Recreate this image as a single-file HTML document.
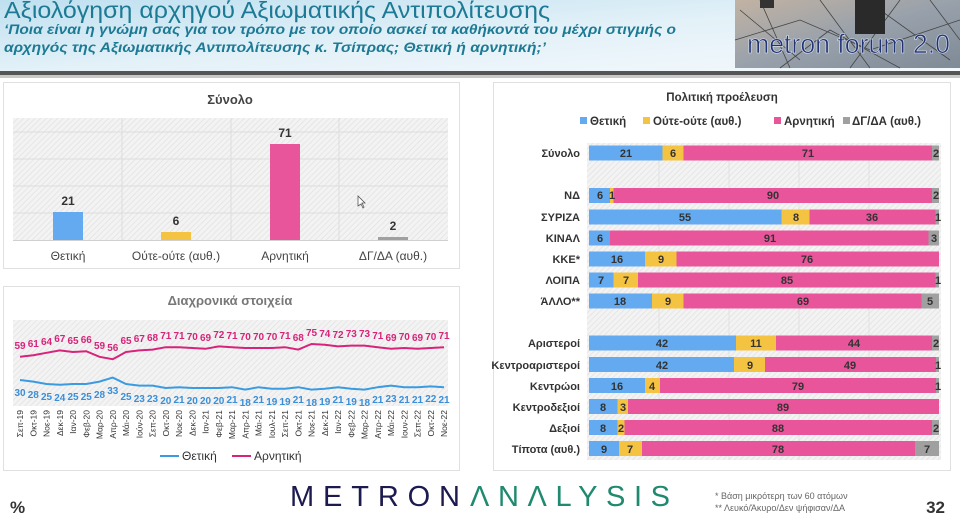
<!DOCTYPE html>
<html><head><meta charset="utf-8"><style>
html,body{margin:0;padding:0;width:960px;height:518px;overflow:hidden;background:#fff}
svg{display:block;font-family:"Liberation Sans","DejaVu Sans",sans-serif}
</style></head><body>
<svg width="960" height="518" viewBox="0 0 960 518" xmlns="http://www.w3.org/2000/svg">
<defs>
<linearGradient id="hdr" x1="0" y1="0" x2="1" y2="1">
<stop offset="0" stop-color="#bfe0f0"/><stop offset="0.5" stop-color="#e3f1f8"/><stop offset="1" stop-color="#f4f9fc"/></linearGradient>
<linearGradient id="img" x1="0" y1="0" x2="1" y2="1">
<stop offset="0" stop-color="#c2b3a3"/><stop offset="0.5" stop-color="#98a1ab"/><stop offset="1" stop-color="#7f8a97"/></linearGradient>
<pattern id="hatch" width="4" height="4" patternUnits="userSpaceOnUse" patternTransform="rotate(45)">
<rect width="4" height="4" fill="#f3f3f3"/><line x1="0" y1="0" x2="0" y2="4" stroke="#e2e2e2" stroke-width="1.5"/></pattern>
</defs>
<!-- header -->
<rect x="0" y="0" width="960" height="72" fill="url(#hdr)"/>
<rect x="0" y="71" width="960" height="4" fill="#555"/>
<rect x="0" y="75" width="960" height="3" fill="#c8c8c8"/>
<text x="4" y="18" font-size="23" fill="#1d7a94" textLength="546" lengthAdjust="spacingAndGlyphs">Αξιολόγηση αρχηγού Αξιωματικής Αντιπολίτευσης</text>
<text x="4" y="34" font-size="13.5" font-style="italic" font-weight="bold" fill="#1d7a94" textLength="672" lengthAdjust="spacingAndGlyphs">‘Ποια είναι η γνώμη σας για τον τρόπο με τον οποίο ασκεί τα καθήκοντά του μέχρι στιγμής ο</text>
<text x="4" y="52" font-size="13.5" font-style="italic" font-weight="bold" fill="#1d7a94" textLength="542" lengthAdjust="spacingAndGlyphs">αρχηγός της Αξιωματικής Αντιπολίτευσης κ. Τσίπρας; Θετική ή αρνητική;’</text>
<rect x="735" y="0" width="225" height="68" fill="url(#img)"/>
<path d="M740 10 L800 60 M760 0 L790 68 M820 0 L870 68 M900 0 L850 68 M930 0 L960 40 M735 40 L800 20 L870 50 L960 20 M780 68 L830 30 L900 68 M880 10 L950 60" stroke="#444" stroke-width="0.8" fill="none"/>
<rect x="855" y="0" width="30" height="34" fill="#2a2a2a"/>
<rect x="760" y="0" width="14" height="8" fill="#333"/>
<text x="747" y="53" font-size="27" fill="#233475" stroke="#dfe6ef" stroke-width="0.6" textLength="203" lengthAdjust="spacingAndGlyphs">metron forum 2.0</text>

<!-- top-left panel -->
<rect x="3.5" y="82.5" width="456" height="186" fill="#fff" stroke="#e0e0e0"/>
<text x="230" y="104" font-size="13" font-weight="bold" fill="#444" text-anchor="middle">Σύνολο</text>
<rect x="13" y="118" width="435" height="122" fill="url(#hatch)"/>
<g stroke="#dcdcdc" stroke-width="1">
<line x1="13" y1="132" x2="448" y2="132"/><line x1="13" y1="159" x2="448" y2="159"/><line x1="13" y1="186" x2="448" y2="186"/><line x1="13" y1="213" x2="448" y2="213"/>
<line x1="122" y1="118" x2="122" y2="240"/><line x1="231" y1="118" x2="231" y2="240"/><line x1="339" y1="118" x2="339" y2="240"/>
</g>
<line x1="13" y1="240.5" x2="448" y2="240.5" stroke="#d0d0d0"/>
<rect x="53" y="212" width="30" height="28" fill="#63aaf0"/>
<rect x="161" y="232" width="30" height="8" fill="#f5c342"/>
<rect x="270" y="144" width="30" height="96" fill="#e8559a"/>
<rect x="378" y="237" width="30" height="3" fill="#a0a0a0"/>
<g font-size="12" font-weight="bold" fill="#333" text-anchor="middle">
<text x="68" y="205">21</text><text x="176" y="225">6</text><text x="285" y="137">71</text><text x="393" y="230">2</text>
</g>
<g font-size="12" fill="#444" text-anchor="middle">
<text x="68" y="260">Θετική</text><text x="176" y="260">Ούτε-ούτε (αυθ.)</text><text x="285" y="260">Αρνητική</text><text x="393" y="260">ΔΓ/ΔΑ (αυθ.)</text>
</g>
<path d="M358 196 l0 10 l3 -2 l2 4 l1 -1 l-2 -4 l3 0 z" fill="#fff" stroke="#555" stroke-width="0.8"/>

<!-- bottom-left panel -->
<rect x="3.5" y="286.5" width="456" height="184" fill="#fff" stroke="#e0e0e0"/>
<text x="230" y="305" font-size="13" font-weight="bold" fill="#777" text-anchor="middle">Διαχρονικά στοιχεία</text>
<rect x="13" y="320" width="435" height="86" fill="url(#hatch)"/>
<polyline fill="none" stroke="#d8237a" stroke-width="2" points="20,356.8 33.25,355.2 46.5,352.8 59.75,350.4 73,352 86.25,351.2 99.5,356.8 112.75,359.2 126,352 139.25,350.4 152.5,349.6 165.75,347.2 179,347.2 192.25,348 205.5,348.8 218.75,346.4 232,347.2 245.25,348 258.5,348 271.75,348 285,347.2 298.25,349.6 311.5,344 324.75,344.8 338,346.4 351.25,345.6 364.5,345.6 377.75,347.2 391,348.8 404.25,348 417.5,348.8 430.75,348 444,347.2"/>
<polyline fill="none" stroke="#3a9be0" stroke-width="2" points="20,380 33.25,381.6 46.5,384 59.75,384.8 73,384 86.25,384 99.5,381.6 112.75,377.6 126,384 139.25,385.6 152.5,385.6 165.75,388 179,387.2 192.25,388 205.5,388 218.75,388 232,387.2 245.25,389.6 258.5,387.2 271.75,388.8 285,388.8 298.25,387.2 311.5,389.6 324.75,388.8 338,387.2 351.25,388.8 364.5,389.6 377.75,387.2 391,385.6 404.25,387.2 417.5,387.2 430.75,386.4 444,387.2"/>
<g font-size="10" font-weight="bold" fill="#d8237a" text-anchor="middle">
<text x="20" y="349">59</text><text x="33.25" y="347">61</text><text x="46.5" y="345">64</text><text x="59.75" y="342">67</text><text x="73" y="344">65</text><text x="86.25" y="343">66</text><text x="99.5" y="349">59</text><text x="112.75" y="351">56</text><text x="126" y="344">65</text><text x="139.25" y="342">67</text><text x="152.5" y="341">68</text><text x="165.75" y="339">71</text><text x="179" y="339">71</text><text x="192.25" y="340">70</text><text x="205.5" y="341">69</text><text x="218.75" y="338">72</text><text x="232" y="339">71</text><text x="245.25" y="340">70</text><text x="258.5" y="340">70</text><text x="271.75" y="340">70</text><text x="285" y="339">71</text><text x="298.25" y="341">68</text><text x="311.5" y="336">75</text><text x="324.75" y="337">74</text><text x="338" y="338">72</text><text x="351.25" y="337">73</text><text x="364.5" y="337">73</text><text x="377.75" y="339">71</text><text x="391" y="341">69</text><text x="404.25" y="340">70</text><text x="417.5" y="341">69</text><text x="430.75" y="340">70</text><text x="444" y="339">71</text>
</g>
<g font-size="10" font-weight="bold" fill="#3a8fd8" text-anchor="middle">
<text x="20" y="396">30</text><text x="33.25" y="398">28</text><text x="46.5" y="400">25</text><text x="59.75" y="401">24</text><text x="73" y="400">25</text><text x="86.25" y="400">25</text><text x="99.5" y="398">28</text><text x="112.75" y="394">33</text><text x="126" y="400">25</text><text x="139.25" y="402">23</text><text x="152.5" y="402">23</text><text x="165.75" y="404">20</text><text x="179" y="403">21</text><text x="192.25" y="404">20</text><text x="205.5" y="404">20</text><text x="218.75" y="404">20</text><text x="232" y="403">21</text><text x="245.25" y="406">18</text><text x="258.5" y="403">21</text><text x="271.75" y="405">19</text><text x="285" y="405">19</text><text x="298.25" y="403">21</text><text x="311.5" y="406">18</text><text x="324.75" y="405">19</text><text x="338" y="403">21</text><text x="351.25" y="405">19</text><text x="364.5" y="406">18</text><text x="377.75" y="403">21</text><text x="391" y="402">23</text><text x="404.25" y="403">21</text><text x="417.5" y="403">21</text><text x="430.75" y="402">22</text><text x="444" y="403">21</text>
</g>
<g font-size="8.5" fill="#333" text-anchor="end">
<text transform="translate(23,410) rotate(-90)">Σεπ-19</text><text transform="translate(36.25,410) rotate(-90)">Οκτ-19</text><text transform="translate(49.5,410) rotate(-90)">Νοε-19</text><text transform="translate(62.75,410) rotate(-90)">Δεκ-19</text><text transform="translate(76,410) rotate(-90)">Ιαν-20</text><text transform="translate(89.25,410) rotate(-90)">Φεβ-20</text><text transform="translate(102.5,410) rotate(-90)">Μαρ-20</text><text transform="translate(115.75,410) rotate(-90)">Απρ-20</text><text transform="translate(129,410) rotate(-90)">Μάι-20</text><text transform="translate(142.25,410) rotate(-90)">Ιούν-20</text><text transform="translate(155.5,410) rotate(-90)">Σεπ-20</text><text transform="translate(168.75,410) rotate(-90)">Οκτ-20</text><text transform="translate(182,410) rotate(-90)">Νοε-20</text><text transform="translate(195.25,410) rotate(-90)">Δεκ-20</text><text transform="translate(208.5,410) rotate(-90)">Ιαν-21</text><text transform="translate(221.75,410) rotate(-90)">Φεβ-21</text><text transform="translate(235,410) rotate(-90)">Μαρ-21</text><text transform="translate(248.25,410) rotate(-90)">Απρ-21</text><text transform="translate(261.5,410) rotate(-90)">Μάι-21</text><text transform="translate(274.75,410) rotate(-90)">Ιουλ-21</text><text transform="translate(288,410) rotate(-90)">Σεπ-21</text><text transform="translate(301.25,410) rotate(-90)">Οκτ-21</text><text transform="translate(314.5,410) rotate(-90)">Νοε-21</text><text transform="translate(327.75,410) rotate(-90)">Δεκ-21</text><text transform="translate(341,410) rotate(-90)">Ιαν-22</text><text transform="translate(354.25,410) rotate(-90)">Φεβ-22</text><text transform="translate(367.5,410) rotate(-90)">Μαρ-22</text><text transform="translate(380.75,410) rotate(-90)">Απρ-22</text><text transform="translate(394,410) rotate(-90)">Μάι-22</text><text transform="translate(407.25,410) rotate(-90)">Ιουν-22</text><text transform="translate(420.5,410) rotate(-90)">Σεπ-22</text><text transform="translate(433.75,410) rotate(-90)">Οκτ-22</text><text transform="translate(447,410) rotate(-90)">Νοε-22</text>
</g>
<line x1="160" y1="456" x2="179" y2="456" stroke="#3a9be0" stroke-width="2"/>
<text x="182" y="460" font-size="12" fill="#333">Θετική</text>
<line x1="232" y1="456" x2="251" y2="456" stroke="#d8237a" stroke-width="2"/>
<text x="254" y="460" font-size="12" fill="#333">Αρνητική</text>

<!-- right panel -->
<rect x="493.5" y="82.5" width="457" height="388" fill="#fff" stroke="#e0e0e0"/>
<text x="722" y="101" font-size="11.5" font-weight="bold" fill="#333" text-anchor="middle">Πολιτική προέλευση</text>
<g font-size="11.5" font-weight="bold" fill="#333">
<rect x="580" y="117" width="7" height="7" fill="#63aaf0"/><text x="590" y="125">Θετική</text>
<rect x="643" y="117" width="7" height="7" fill="#f5c342"/><text x="653" y="125">Ούτε-ούτε (αυθ.)</text>
<rect x="774" y="117" width="7" height="7" fill="#e8559a"/><text x="784" y="125">Αρνητική</text>
<rect x="843" y="117" width="7" height="7" fill="#a0a0a0"/><text x="852" y="125">ΔΓ/ΔΑ (αυθ.)</text>
</g>
<rect x="587" y="143" width="354" height="317" fill="url(#hatch)"/>
<g stroke="#e0e0e0"><line x1="659" y1="143" x2="659" y2="460"/><line x1="729" y1="143" x2="729" y2="460"/><line x1="799" y1="143" x2="799" y2="460"/><line x1="869" y1="143" x2="869" y2="460"/></g>
<g font-size="11" font-weight="bold" fill="#333" text-anchor="end">
<text x="580" y="157">Σύνολο</text><text x="580" y="199">ΝΔ</text><text x="580" y="221">ΣΥΡΙΖΑ</text><text x="580" y="242">ΚΙΝΑΛ</text><text x="580" y="263">ΚΚΕ*</text><text x="580" y="284">ΛΟΙΠΑ</text><text x="580" y="305">ΆΛΛΟ**</text><text x="580" y="347">Αριστεροί</text><text x="580" y="369">Κεντροαριστεροί</text><text x="580" y="390">Κεντρώοι</text><text x="580" y="411">Κεντροδεξιοί</text><text x="580" y="432">Δεξιοί</text><text x="580" y="453">Τίποτα (αυθ.)</text>
</g>
<g>
<rect x="589" y="145.5" width="73.5" height="15" fill="#63aaf0"/><rect x="662.5" y="145.5" width="21" height="15" fill="#f5c342"/><rect x="683.5" y="145.5" width="248.5" height="15" fill="#e8559a"/><rect x="932" y="145.5" width="7" height="15" fill="#a0a0a0"/>
<rect x="589" y="188" width="21" height="15" fill="#63aaf0"/><rect x="610" y="188" width="3.5" height="15" fill="#f5c342"/><rect x="613.5" y="188" width="318.5" height="15" fill="#e8559a"/><rect x="932" y="188" width="7" height="15" fill="#a0a0a0"/>
<rect x="589" y="209.5" width="192.5" height="15" fill="#63aaf0"/><rect x="781.5" y="209.5" width="28" height="15" fill="#f5c342"/><rect x="809.5" y="209.5" width="126" height="15" fill="#e8559a"/><rect x="935.5" y="209.5" width="3.5" height="15" fill="#a0a0a0"/>
<rect x="589" y="230.5" width="21" height="15" fill="#63aaf0"/><rect x="610" y="230.5" width="318.5" height="15" fill="#e8559a"/><rect x="928.5" y="230.5" width="10.5" height="15" fill="#a0a0a0"/>
<rect x="589" y="251.5" width="56" height="15" fill="#63aaf0"/><rect x="645" y="251.5" width="31.5" height="15" fill="#f5c342"/><rect x="676.5" y="251.5" width="262.5" height="15" fill="#e8559a"/>
<rect x="589" y="272.5" width="24.5" height="15" fill="#63aaf0"/><rect x="613.5" y="272.5" width="24.5" height="15" fill="#f5c342"/><rect x="638" y="272.5" width="297.5" height="15" fill="#e8559a"/><rect x="935.5" y="272.5" width="3.5" height="15" fill="#a0a0a0"/>
<rect x="589" y="293.5" width="63" height="15" fill="#63aaf0"/><rect x="652" y="293.5" width="31.5" height="15" fill="#f5c342"/><rect x="683.5" y="293.5" width="238" height="15" fill="#e8559a"/><rect x="921.5" y="293.5" width="17.5" height="15" fill="#a0a0a0"/>
<rect x="589" y="335.5" width="147" height="15" fill="#63aaf0"/><rect x="736" y="335.5" width="40" height="15" fill="#f5c342"/><rect x="776" y="335.5" width="156" height="15" fill="#e8559a"/><rect x="932" y="335.5" width="7" height="15" fill="#a0a0a0"/>
<rect x="589" y="357" width="145" height="15" fill="#63aaf0"/><rect x="734" y="357" width="31" height="15" fill="#f5c342"/><rect x="765" y="357" width="171" height="15" fill="#e8559a"/><rect x="936" y="357" width="3" height="15" fill="#a0a0a0"/>
<rect x="589" y="378" width="56" height="15" fill="#63aaf0"/><rect x="645" y="378" width="15" height="15" fill="#f5c342"/><rect x="660" y="378" width="276" height="15" fill="#e8559a"/><rect x="936" y="378" width="3" height="15" fill="#a0a0a0"/>
<rect x="589" y="399" width="28.5" height="15" fill="#63aaf0"/><rect x="617.5" y="399" width="10.5" height="15" fill="#f5c342"/><rect x="628" y="399" width="311" height="15" fill="#e8559a"/>
<rect x="589" y="420" width="28.5" height="15" fill="#63aaf0"/><rect x="617.5" y="420" width="7" height="15" fill="#f5c342"/><rect x="624.5" y="420" width="307.5" height="15" fill="#e8559a"/><rect x="932" y="420" width="7" height="15" fill="#a0a0a0"/>
<rect x="589" y="441" width="30" height="15" fill="#63aaf0"/><rect x="619" y="441" width="23" height="15" fill="#f5c342"/><rect x="642" y="441" width="273" height="15" fill="#e8559a"/><rect x="915" y="441" width="24" height="15" fill="#a0a0a0"/>
</g>
<g font-size="11" font-weight="bold" fill="#333" text-anchor="middle">
<text x="626" y="157">21</text><text x="673" y="157">6</text><text x="808" y="157">71</text><text x="936" y="157">2</text>
<text x="600" y="199">6</text><text x="612" y="199">1</text><text x="773" y="199">90</text><text x="936" y="199">2</text>
<text x="685" y="221">55</text><text x="796" y="221">8</text><text x="872" y="221">36</text><text x="938" y="221">1</text>
<text x="600" y="242">6</text><text x="770" y="242">91</text><text x="934" y="242">3</text>
<text x="617" y="263">16</text><text x="661" y="263">9</text><text x="807" y="263">76</text>
<text x="601" y="284">7</text><text x="626" y="284">7</text><text x="787" y="284">85</text><text x="938" y="284">1</text>
<text x="620" y="305">18</text><text x="668" y="305">9</text><text x="803" y="305">69</text><text x="930" y="305">5</text>
<text x="662" y="347">42</text><text x="756" y="347">11</text><text x="854" y="347">44</text><text x="936" y="347">2</text>
<text x="662" y="369">42</text><text x="750" y="369">9</text><text x="850" y="369">49</text><text x="938" y="369">1</text>
<text x="617" y="390">16</text><text x="652" y="390">4</text><text x="798" y="390">79</text><text x="938" y="390">1</text>
<text x="603" y="411">8</text><text x="623" y="411">3</text><text x="783" y="411">89</text>
<text x="603" y="432">8</text><text x="621" y="432">2</text><text x="778" y="432">88</text><text x="936" y="432">2</text>
<text x="604" y="453">9</text><text x="630" y="453">7</text><text x="778" y="453">78</text><text x="927" y="453">7</text>
</g>

<!-- footer -->
<text x="10" y="513" font-size="17" font-weight="bold" fill="#333">%</text>
<text x="290" y="506" font-size="29" fill="#1c1a4e" textLength="170" lengthAdjust="spacing">METRON</text>
<text x="470" y="506" font-size="29" fill="#1f8a70" textLength="200" lengthAdjust="spacing">ΛNΛLYSIS</text>
<text x="715" y="499" font-size="9" fill="#666">*  Βάση μικρότερη των 60 ατόμων</text>
<text x="715" y="511" font-size="9" fill="#666">** Λευκό/Άκυρο/Δεν ψήφισαν/ΔΑ</text>
<text x="945" y="513" font-size="17" font-weight="bold" fill="#333" text-anchor="end">32</text>
</svg>
</body></html>
